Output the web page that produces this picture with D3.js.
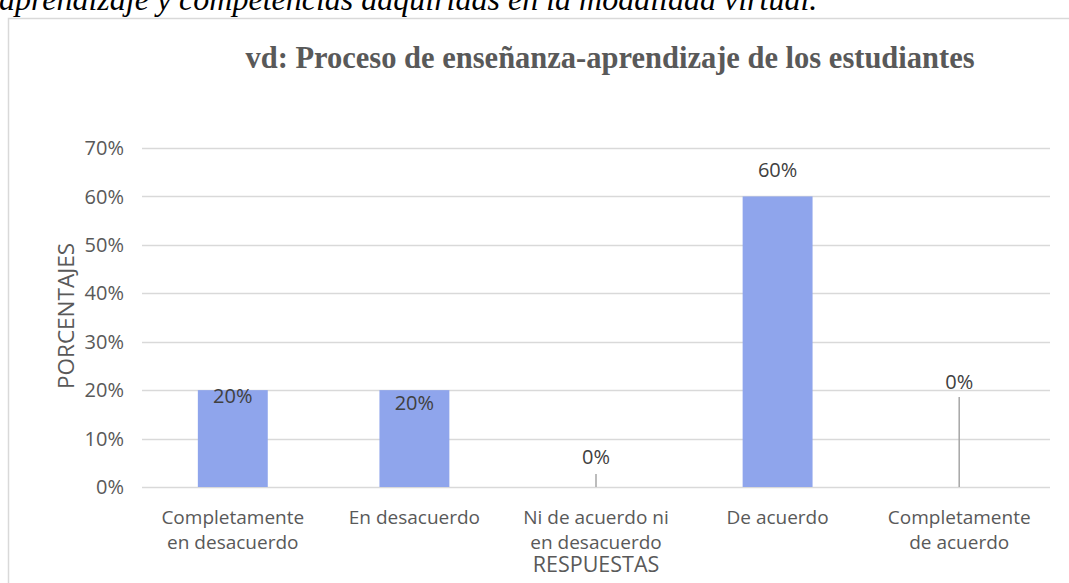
<!DOCTYPE html>
<html>
<head>
<meta charset="utf-8">
<script src="https://cdn.jsdelivr.net/npm/d3@7"></script>
<style>
  body { margin: 0; background: #fff; }
  svg text { font-family: "Open Sans", "Noto Sans", sans-serif; }
</style>
</head>
<body>
<div id="chart"></div>
<script>
// data
const categories = [
  ["Completamente", "en desacuerdo"],
  ["En desacuerdo"],
  ["Ni de acuerdo ni", "en desacuerdo"],
  ["De acuerdo"],
  ["Completamente", "de acuerdo"]
];
const values = [0.20, 0.20, 0.00, 0.60, 0.00];
const yTicks = [0, 0.1, 0.2, 0.3, 0.4, 0.5, 0.6, 0.7];

const width = 1069, height = 583;
const textColor = "#595959";

const svg = d3.select("#chart").append("svg")
  .attr("width", width)
  .attr("height", height);

// caption of the page above, cut off at the top
svg.append("text")
  .attr("x", -1)
  .attr("y", 10)
  .style("font-family", "'Liberation Serif', 'Times New Roman', serif")
  .style("font-style", "italic")
  .style("font-size", "32px")
  .attr("fill", "#000")
  .text("aprendizaje y competencias adquiridas en la modalidad virtual.");

// chart frame (runs past the right edge)
svg.append("rect")
  .attr("x", 8.5).attr("y", 18.5)
  .attr("width", 1200).attr("height", height)
  .attr("fill", "#fff")
  .attr("stroke", "#d9d9d9")
  .attr("stroke-width", 1.5);

// title
svg.append("text")
  .attr("x", 610).attr("y", 68)
  .attr("text-anchor", "middle")
  .style("font-family", "'Liberation Serif', 'Times New Roman', serif")
  .style("font-weight", "bold")
  .style("font-size", "30.5px")
  .attr("fill", textColor)
  .text("vd: Proceso de enseñanza-aprendizaje de los estudiantes");

const x = d3.scaleBand()
  .domain(d3.range(categories.length))
  .range([142, 1050])
  .paddingInner(0.615)
  .paddingOuter(0.3075);

const y = d3.scaleLinear()
  .domain([0, 0.7])
  .range([487, 148]);

const fmt = d3.format(".0%");

// gridlines
svg.append("g")
  .selectAll("line")
  .data(yTicks)
  .join("line")
  .attr("x1", 142).attr("x2", 1050)
  .attr("y1", d => Math.round(y(d)) + 0.5)
  .attr("y2", d => Math.round(y(d)) + 0.5)
  .attr("stroke", "#d9d9d9")
  .attr("stroke-width", 1.5);

// y tick labels
svg.append("g")
  .selectAll("text")
  .data(yTicks)
  .join("text")
  .attr("x", 124)
  .attr("y", d => y(d))
  .attr("dy", "0.36em")
  .attr("text-anchor", "end")
  .style("font-size", "20px")
  .attr("fill", textColor)
  .text(d => fmt(d));

// bars
svg.append("g")
  .selectAll("rect")
  .data(values)
  .join("rect")
  .attr("x", (d, i) => x(i))
  .attr("width", x.bandwidth())
  .attr("y", d => y(d))
  .attr("height", d => y(0) - y(d))
  .attr("fill", "#8fa5ec");

// data labels (placed as in the original)
const labelY = [396, 403, 457, 170, 382];
svg.append("g")
  .selectAll("text")
  .data(values)
  .join("text")
  .attr("x", (d, i) => x(i) + x.bandwidth() / 2)
  .attr("y", (d, i) => labelY[i])
  .attr("dy", "0.36em")
  .attr("text-anchor", "middle")
  .style("font-size", "20px")
  .attr("fill", "#404040")
  .text(d => fmt(d));

// leader lines for the zero labels
const leaders = [{i: 2, top: 474}, {i: 4, top: 397}];
svg.append("g")
  .selectAll("line")
  .data(leaders)
  .join("line")
  .attr("x1", d => x(d.i) + x.bandwidth() / 2)
  .attr("x2", d => x(d.i) + x.bandwidth() / 2)
  .attr("y1", d => d.top)
  .attr("y2", y(0))
  .attr("stroke", "#a6a6a6")
  .attr("stroke-width", 1.5);

// category labels
const cat = svg.append("g")
  .selectAll("text")
  .data(categories)
  .join("text")
  .attr("x", (d, i) => x(i) + x.bandwidth() / 2)
  .attr("y", 524)
  .attr("text-anchor", "middle")
  .style("font-size", "19px")
  .attr("fill", textColor);
cat.selectAll("tspan")
  .data(d => d)
  .join("tspan")
  .attr("x", function() { return this.parentNode.getAttribute("x"); })
  .attr("dy", (d, j) => j === 0 ? 0 : 24.5)
  .text(d => d);

// axis titles
svg.append("text")
  .attr("x", x(2) + x.bandwidth() / 2)
  .attr("y", 572)
  .attr("text-anchor", "middle")
  .style("font-size", "21.5px")
  .attr("fill", textColor)
  .text("RESPUESTAS");

svg.append("text")
  .attr("transform", "translate(66,316) rotate(-90)")
  .attr("dy", "0.36em")
  .attr("text-anchor", "middle")
  .style("font-size", "22.5px")
  .attr("fill", textColor)
  .text("PORCENTAJES");
</script>
</body>
</html>
